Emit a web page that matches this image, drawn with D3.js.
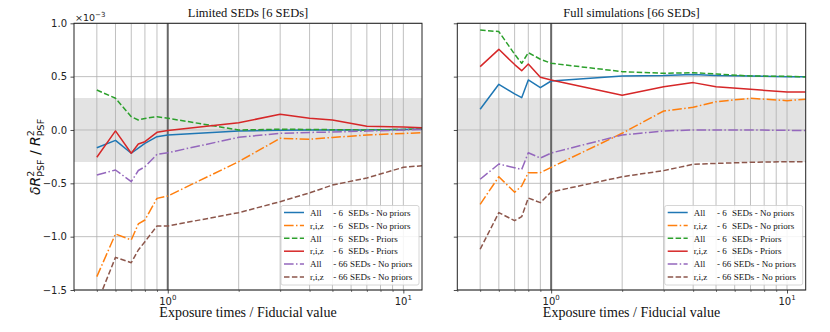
<!DOCTYPE html>
<html><head><meta charset="utf-8">
<script src="https://cdn.jsdelivr.net/npm/d3@7/dist/d3.min.js"></script>
<style>body{margin:0;background:#fff}</style>
</head><body>
<svg id="chart" width="830" height="332" xmlns="http://www.w3.org/2000/svg"></svg>
<script>
// ---- data (values in units of 1e-3) ----
const exposureRatios = [0.5, 0.6, 0.7, 0.75, 0.8, 0.9, 1, 2, 3, 4, 5, 7, 10, 12];
const yTickValues = [-1.5, -1.0, -0.5, 0.0, 0.5, 1.0];
const xMajorTicks = [1, 10];
const xMinorTicks = [0.4, 0.5, 0.6, 0.7, 0.8, 0.9, 2, 3, 4, 5, 6, 7, 8, 9];
const bandLimits = [-0.3, 0.3];
const panelTitles = ["Limited SEDs [6 SEDs]", "Full simulations [66 SEDs]"];
const legendLabels = [
  ["All", "- 6", "SEDs - No priors"],
  ["r,i,z", "- 6", "SEDs - No priors"],
  ["All", "- 6", "SEDs - Priors"],
  ["r,i,z", "- 6", "SEDs - Priors"],
  ["All", "- 66", "SEDs - No priors"],
  ["r,i,z", "- 66", "SEDs - No priors"]
];
// Left panel: Limited SEDs
const limAll6NoPriors  = [-0.166, -0.097, -0.218, -0.17, -0.125, -0.063, -0.047, -0.01, -0.003, 0.0, 0.0, 0.0, 0.005, 0.01];
const limRiz6NoPriors  = [-1.375, -0.975, -1.031, -0.881, -0.844, -0.641, -0.619, -0.297, -0.078, -0.087, -0.07, -0.047, -0.033, -0.025];
const limAll6Priors    = [0.375, 0.297, 0.125, 0.094, 0.108, 0.125, 0.11, 0.0, 0.007, 0.005, 0.003, 0.0, 0.005, 0.01];
const limRiz6Priors    = [-0.256, -0.009, -0.218, -0.131, -0.11, -0.022, -0.005, 0.068, 0.147, 0.11, 0.094, 0.035, 0.028, 0.022];
const limAll66NoPriors = [-0.422, -0.375, -0.485, -0.38, -0.345, -0.228, -0.213, -0.069, -0.031, -0.023, -0.019, -0.01, 0.0, 0.005];
const limRiz66NoPriors = [-1.63, -1.194, -1.244, -1.125, -1.047, -0.9, -0.9, -0.775, -0.672, -0.59, -0.516, -0.45, -0.35, -0.335];
// Right panel: Full simulations
const fullAll6NoPriors  = [0.194, 0.428, 0.338, 0.303, 0.469, 0.397, 0.459, 0.505, 0.51, 0.52, 0.51, 0.505, 0.5, 0.5];
const fullRiz6NoPriors  = [-0.697, -0.438, -0.584, -0.525, -0.4, -0.4, -0.35, -0.031, 0.178, 0.213, 0.265, 0.297, 0.275, 0.288];
const fullAll6Priors    = [0.9375, 0.922, 0.71, 0.625, 0.725, 0.663, 0.625, 0.547, 0.531, 0.537, 0.525, 0.506, 0.503, 0.497];
const fullRiz6Priors    = [0.594, 0.756, 0.613, 0.556, 0.619, 0.494, 0.469, 0.325, 0.406, 0.444, 0.406, 0.381, 0.356, 0.356];
const fullAll66NoPriors = [-0.462, -0.319, -0.354, -0.37, -0.213, -0.263, -0.216, -0.047, -0.009, 0.0, 0.0, 0.0, -0.003, -0.006];
const fullRiz66NoPriors = [-1.118, -0.775, -0.85, -0.813, -0.638, -0.681, -0.581, -0.438, -0.381, -0.322, -0.313, -0.303, -0.297, -0.297];

// ---- styles ----
const lineStyles = [
  {color: "#1f77b4", dash: null},
  {color: "#ff7f0e", dash: "9.6,2.4,1.5,2.4"},
  {color: "#2ca02c", dash: "5.5,2.4"},
  {color: "#d62728", dash: null},
  {color: "#9467bd", dash: "9.6,2.4,1.5,2.4"},
  {color: "#8c564b", dash: "5.5,2.4"}
];

const panels = [
  {title: panelTitles[0], x0: 74, x1: 422, showYLabels: true,
   series: [limAll6NoPriors, limRiz6NoPriors, limAll6Priors, limRiz6Priors, limAll66NoPriors, limRiz66NoPriors]},
  {title: panelTitles[1], x0: 457.3, x1: 805.7, showYLabels: false,
   series: [fullAll6NoPriors, fullRiz6NoPriors, fullAll6Priors, fullRiz6Priors, fullAll66NoPriors, fullRiz66NoPriors]}
];
const yTop = 23.3, yBot = 290;

const svg = d3.select("#chart");
const y = d3.scaleLinear().domain([-1.5, 1.0]).range([yBot, yTop]);
const serif = "'Liberation Serif','Times New Roman',serif";
const sans = "'DejaVu Sans',sans-serif";

panels.forEach((p, pi) => {
  const x = d3.scaleLog().domain([0.4, 12]).range([p.x0, p.x1]);
  const g = svg.append("g");
  const clipId = "clip" + pi;
  svg.append("defs").append("clipPath").attr("id", clipId)
    .append("rect").attr("x", p.x0).attr("y", yTop).attr("width", p.x1 - p.x0).attr("height", yBot - yTop);

  // shaded band
  g.append("rect").attr("x", p.x0).attr("width", p.x1 - p.x0)
    .attr("y", y(bandLimits[1])).attr("height", y(bandLimits[0]) - y(bandLimits[1]))
    .attr("fill", "#e3e3e3");

  // grid
  const gridG = g.append("g").attr("stroke", "#b0b0b0").attr("stroke-width", 0.8);
  xMinorTicks.concat(xMajorTicks).filter(v => v > 0.4).forEach(v => {
    gridG.append("line").attr("x1", x(v)).attr("x2", x(v)).attr("y1", yTop).attr("y2", yBot);
  });
  yTickValues.forEach(v => {
    gridG.append("line").attr("x1", p.x0).attr("x2", p.x1).attr("y1", y(v)).attr("y2", y(v));
  });

  // vertical reference at fiducial value
  g.append("line").attr("x1", x(1)).attr("x2", x(1)).attr("y1", yTop).attr("y2", yBot)
    .attr("stroke", "#555").attr("stroke-opacity", 0.85).attr("stroke-width", 2);

  // data lines
  const line = d3.line().x(d => x(d[0])).y(d => y(d[1]));
  const lg = g.append("g").attr("clip-path", `url(#${clipId})`);
  p.series.forEach((vals, si) => {
    const pts = exposureRatios.map((e, i) => [e, vals[i]]);
    lg.append("path").attr("d", line(pts)).attr("fill", "none")
      .attr("stroke", lineStyles[si].color).attr("stroke-width", 1.5)
      .attr("stroke-dasharray", lineStyles[si].dash)
      .attr("stroke-linejoin", "round");
  });

  // axes
  const yAxis = d3.axisLeft(y).tickValues(yTickValues).tickSize(3.5).tickPadding(3.5)
    .tickFormat(p.showYLabels ? d3.format(".1f") : () => "");
  const ya = g.append("g").attr("transform", `translate(${p.x0},0)`).call(yAxis);
  ya.select(".domain").remove();
  ya.selectAll("text").attr("font-family", sans).attr("font-size", 10).attr("fill", "#222");
  ya.selectAll("line").attr("stroke", "#222").attr("stroke-width", 0.8);

  const xAxis = d3.axisBottom(x).tickValues(xMajorTicks).tickSize(3.5).tickFormat(() => "");
  const xa = g.append("g").attr("transform", `translate(0,${yBot})`).call(xAxis);
  xa.select(".domain").remove();
  xa.selectAll("line").attr("stroke", "#222").attr("stroke-width", 0.8);
  const xAxisMinor = d3.axisBottom(x).tickValues(xMinorTicks).tickSize(2).tickFormat(() => "");
  const xm = g.append("g").attr("transform", `translate(0,${yBot})`).call(xAxisMinor);
  xm.select(".domain").remove();
  xm.selectAll("line").attr("stroke", "#222").attr("stroke-width", 0.6);

  xMajorTicks.forEach(v => {
    const t = g.append("text").attr("x", x(v)).attr("y", yBot + 14.5)
      .attr("text-anchor", "middle").attr("font-family", sans).attr("font-size", 10).attr("fill", "#222");
    t.append("tspan").text("10");
    t.append("tspan").attr("font-size", 7).attr("dy", -4.5).text(String(Math.round(Math.log10(v))));
  });

  // frame
  g.append("rect").attr("x", p.x0).attr("y", yTop).attr("width", p.x1 - p.x0).attr("height", yBot - yTop)
    .attr("fill", "none").attr("stroke", "#222").attr("stroke-width", 1);

  // title
  g.append("text").attr("x", (p.x0 + p.x1) / 2).attr("y", 17).attr("text-anchor", "middle")
    .attr("font-family", serif).attr("font-size", 12.5).attr("fill", "#111").text(p.title);

  // x label
  g.append("text").attr("x", (p.x0 + p.x1) / 2).attr("y", 317).attr("text-anchor", "middle")
    .attr("font-family", serif).attr("font-size", 14).attr("fill", "#111").text("Exposure times / Fiducial value");

  // legend
  const bx = p.x1 - 141, by = 205.5, bw = 138, bh = 79.5;
  const leg = g.append("g");
  leg.append("rect").attr("x", bx).attr("y", by).attr("width", bw).attr("height", bh).attr("rx", 2)
    .attr("fill", "#fff").attr("fill-opacity", 0.85).attr("stroke", "#cccccc").attr("stroke-width", 0.8);
  legendLabels.forEach((lab, i) => {
    const ry = by + 7 + i * 12.9;
    leg.append("line").attr("x1", bx + 3).attr("x2", bx + 23).attr("y1", ry).attr("y2", ry)
      .attr("stroke", lineStyles[i].color).attr("stroke-width", 1.5)
      .attr("stroke-dasharray", lineStyles[i].dash);
    const t = leg.append("text").attr("y", ry + 3.2).attr("font-family", serif).attr("font-size", 9).attr("fill", "#111");
    const is66 = lab[1].length > 3;
    t.append("tspan").attr("x", bx + 29).text(lab[0] + " ");
    t.append("tspan").attr("x", bx + 29 + 23.3).text(lab[1] + " ");
    t.append("tspan").attr("x", bx + 29 + (is66 ? 40 : 38.3)).text(lab[2]);
  });
});

// offset text
const off = svg.append("text").attr("x", 75).attr("y", 21).attr("font-family", sans).attr("font-size", 9.5).attr("fill", "#222");
off.append("tspan").text("×10");
off.append("tspan").attr("font-size", 7).attr("dy", -4).text("−3");

// y label (rotated)
const yl = svg.append("text").attr("transform", "translate(40,157) rotate(-90)")
  .attr("text-anchor", "middle").attr("font-family", sans).attr("font-size", 14).attr("fill", "#111");
yl.append("tspan").attr("font-style", "italic").text("δR");
yl.append("tspan").attr("font-size", 9.5).attr("dy", -6).text("2");
yl.append("tspan").attr("font-size", 9.5).attr("dx", -6).attr("dy", 9.5).text("PSF");
yl.append("tspan").attr("dy", -3.5).text(" / ");
yl.append("tspan").attr("font-style", "italic").text("R");
yl.append("tspan").attr("font-size", 9.5).attr("dy", -6).text("2");
yl.append("tspan").attr("font-size", 9.5).attr("dx", -6).attr("dy", 9.5).text("PSF");
</script>
</body></html>
